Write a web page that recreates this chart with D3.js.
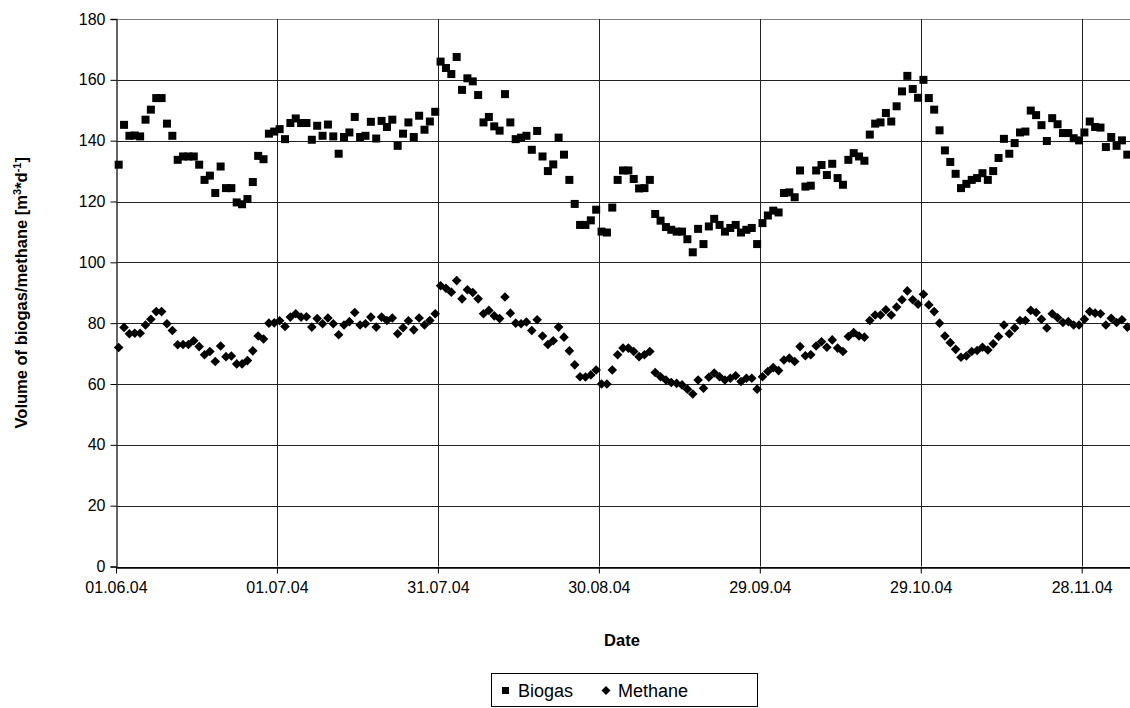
<!DOCTYPE html>
<html>
<head>
<meta charset="utf-8">
<script src="https://cdn.jsdelivr.net/npm/d3@7"></script>
<style>
  body { margin: 0; background: #fff; }
  svg { display: block; font-family: "Liberation Sans", Arial, sans-serif; }
</style>
</head>
<body>
<svg id="chart" width="1130" height="708"></svg>
<script>
// daily values starting 01.06.04
var start_date = "2004-06-01";
var biogas = [132.1, 145.2, 141.6, 141.7, 141.4, 146.9, 150.2, 154, 154, 145.6,
    141.6, 133.7, 134.8, 134.8, 134.8, 132.1, 127.1, 128.5, 122.8, 131.5,
    124.4, 124.4, 119.7, 119.1, 120.8, 126.4, 135, 133.9, 142.3, 143,
    143.8, 140.5, 145.8, 147.3, 145.8, 145.8, 140.3, 144.9, 141.6, 145.3,
    141.4, 135.7, 141.2, 142.7, 147.8, 141.2, 141.6, 146.2, 140.7, 146.5,
    144.5, 146.9, 138.3, 142.3, 146, 141.2, 148.2, 143.6, 146.3, 149.5,
    166, 163.9, 161.9, 167.5, 156.7, 160.5, 159.5, 155, 146, 147.8,
    144.7, 143.3, 155.3, 146, 140.5, 141, 141.6, 137, 143.2, 134.8,
    130, 132.2, 141, 135.4, 127.1, 119.2, 112.3, 112.3, 113.8, 117.3,
    110.1, 109.8, 118, 127.1, 130.2, 130.2, 127.4, 124.3, 124.4, 127.1,
    115.9, 113.7, 111.6, 110.7, 110.1, 110.1, 107.6, 103.3, 111, 106,
    111.8, 114.3, 112.3, 110.1, 111.3, 112.3, 109.8, 110.7, 111.3, 106,
    112.9, 115.4, 117, 116.4, 122.8, 123, 121.4, 130.2, 124.9, 125.2,
    130.2, 132, 128.7, 132.4, 127.7, 125.5, 133.7, 135.9, 134.8, 133.4,
    142, 145.6, 146, 149.1, 146.3, 151.3, 156.2, 161.3, 157, 154.1,
    160, 154, 150.2, 143.4, 136.8, 133, 129.1, 124.4, 125.8, 127.1,
    127.7, 129.3, 127.1, 130, 134.3, 140.6, 135.7, 139.2, 142.7, 143,
    149.9, 148.4, 145.1, 139.9, 147.4, 145.4, 142.5, 142.5, 140.8, 140.1,
    142.7, 146.3, 144.5, 144.3, 137.9, 141.2, 138.3, 140.1, 135.4];
var methane = [72, 78.6, 76.5, 76.7, 76.7, 79.4, 81.3, 83.8, 83.8, 79.8,
    77.6, 72.9, 73, 73, 74.2, 72.3, 69.6, 70.7, 67.4, 72.5,
    69, 69.2, 66.6, 66.6, 67.7, 70.9, 75.8, 74.8, 80, 80.1,
    80.8, 78.9, 82, 83.1, 82, 82.1, 78.7, 81.5, 79.8, 81.7,
    79.8, 76.2, 79.4, 80.5, 83.5, 79.4, 79.8, 82, 78.7, 82,
    80.9, 81.7, 76.5, 78.5, 80.8, 77.8, 81.7, 79.4, 80.9, 83.1,
    92.3, 91.5, 90.2, 94, 88, 91, 90.1, 88, 83.1, 84.2,
    82.4, 81.5, 88.6, 83.3, 80, 79.8, 80.4, 77.6, 81.1, 75.8,
    73, 74.2, 78.7, 75.4, 70.9, 66.3, 62.4, 62.3, 63, 64.6,
    60, 60, 64.6, 69.6, 71.8, 71.8, 70.7, 69, 69.6, 70.7,
    63.8, 62.4, 61.3, 60.5, 60.2, 59.7, 58.3, 56.7, 61.3, 58.6,
    62.2, 63.6, 62.4, 61.3, 61.9, 62.7, 60.8, 61.9, 61.9, 58.3,
    62.4, 64.1, 65.4, 64.4, 67.9, 68.5, 67.4, 72.3, 69.3, 69.6,
    72.5, 73.9, 72.1, 74.5, 71.8, 70.7, 75.6, 76.9, 75.8, 75.4,
    80.9, 82.7, 82.7, 84.4, 82.7, 85.3, 87.7, 90.6, 87.7, 86.2,
    89.5, 86, 83.8, 80, 75.8, 73.6, 71.4, 68.8, 69.2, 70.7,
    71, 72.1, 71.2, 73.2, 75.6, 79.4, 76.5, 78.4, 80.9, 80.9,
    84.2, 83.5, 81.3, 78.4, 83.1, 81.8, 80.2, 80.5, 79.4, 79.4,
    81.3, 83.8, 83.3, 83.1, 79.4, 81.6, 80.2, 81.1, 78.7];
var y_ticks = [0, 20, 40, 60, 80, 100, 120, 140, 160, 180];
var x_ticks = ["2004-06-01", "2004-07-01", "2004-07-31", "2004-08-30", "2004-09-29", "2004-10-29", "2004-11-28"];
var x_end = "2004-12-07";

var parse = d3.utcParse("%Y-%m-%d");
var fmt = d3.utcFormat("%d.%m.%y");
var t0 = parse(start_date);

var svg = d3.select("#chart");
var margin = {top: 19, left: 116, bottom: 141.5, right: 0};
var width = 1130, height = 708;

var x = d3.scaleUtc()
    .domain([t0, parse(x_end)])
    .range([margin.left, width - margin.right]);
var y = d3.scaleLinear()
    .domain([0, 180])
    .range([height - margin.bottom, margin.top]);

// point sits in the middle of its day
function px(i) { return x(d3.utcHour.offset(t0, i * 24 + 12)); }

// grid
svg.append("g")
    .selectAll("line.h")
    .data(y_ticks)
    .enter().append("line")
    .attr("x1", margin.left).attr("x2", width)
    .attr("y1", d => Math.round(y(d)) + 0.5).attr("y2", d => Math.round(y(d)) + 0.5)
    .attr("stroke", d => d == 180 ? "#808080" : "#222")
    .attr("stroke-width", 1);

svg.append("g")
    .selectAll("line.v")
    .data(x_ticks.slice(1))
    .enter().append("line")
    .attr("x1", d => Math.round(x(parse(d))) + 0.5).attr("x2", d => Math.round(x(parse(d))) + 0.5)
    .attr("y1", y(180)).attr("y2", y(0))
    .attr("stroke", "#222")
    .attr("stroke-width", 1);

// axes
var yAxis = svg.append("g")
    .attr("transform", `translate(${margin.left + 0.5},0)`)
    .call(d3.axisLeft(y).tickValues(y_ticks).tickSize(6).tickPadding(5));
yAxis.select(".domain").attr("stroke", "#333").attr("stroke-width", 1.5);
yAxis.selectAll("text").attr("font-size", "16px").attr("fill", "#000")
    .attr("font-family", "Liberation Sans, Arial, sans-serif");

var xAxis = svg.append("g")
    .attr("transform", `translate(0,${Math.round(y(0)) + 0.5})`)
    .call(d3.axisBottom(x).tickValues(x_ticks.map(parse)).tickFormat(fmt).tickSize(6).tickPadding(8).tickSizeOuter(0));
xAxis.select(".domain").attr("stroke", "#000").attr("stroke-width", 1.5);
xAxis.selectAll("text").attr("font-size", "16px").attr("fill", "#000")
    .attr("font-family", "Liberation Sans, Arial, sans-serif");

// markers
var sq = 8;
svg.append("g")
    .selectAll("rect")
    .data(biogas)
    .enter().append("rect")
    .attr("x", (d, i) => px(i) - sq / 2)
    .attr("y", d => y(d) - sq / 2)
    .attr("width", sq).attr("height", sq)
    .attr("fill", "#000");

var dm = 4.8;
svg.append("g")
    .selectAll("path")
    .data(methane)
    .enter().append("path")
    .attr("transform", (d, i) => `translate(${px(i)},${y(d)})`)
    .attr("d", `M0,${-dm}L${dm},0L0,${dm}L${-dm},0Z`)
    .attr("fill", "#000");

// titles
svg.append("text")
    .attr("transform", `translate(27,${(y(0) + y(180)) / 2}) rotate(-90)`)
    .attr("text-anchor", "middle")
    .attr("font-size", "16.5px").attr("font-weight", "bold")
    .html('Volume of biogas/methane [m<tspan dy="-6" font-size="11px">3</tspan><tspan dy="6">*d</tspan><tspan dy="-6" font-size="11px">-1</tspan><tspan dy="6">]</tspan>');

svg.append("text")
    .attr("x", 622).attr("y", 646)
    .attr("text-anchor", "middle")
    .attr("font-size", "16.5px").attr("font-weight", "bold")
    .text("Date");

// legend
var lg = svg.append("g").attr("transform", "translate(491,673)");
lg.append("rect").attr("x", 0.5).attr("y", 0.5).attr("width", 266).attr("height", 33)
    .attr("fill", "#fff").attr("stroke", "#000").attr("stroke-width", 1);
lg.append("rect").attr("x", 11).attr("y", 14).attr("width", 7).attr("height", 7).attr("fill", "#000");
lg.append("text").attr("x", 27).attr("y", 24).attr("font-size", "18px").text("Biogas");
lg.append("path").attr("transform", "translate(115,17.5)")
    .attr("d", "M0,-4.5L4.5,0L0,4.5L-4.5,0Z").attr("fill", "#000");
lg.append("text").attr("x", 127).attr("y", 24).attr("font-size", "18px").text("Methane");
</script>
</body>
</html>
